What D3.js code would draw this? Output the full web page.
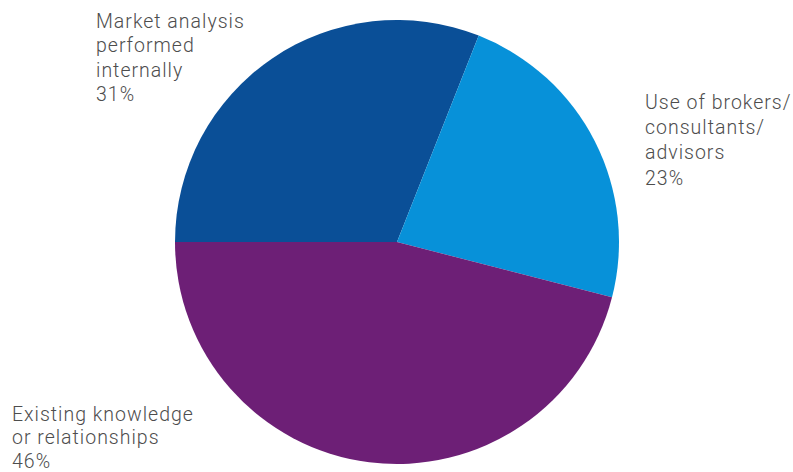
<!DOCTYPE html>
<html>
<head>
<meta charset="utf-8">
<script src="https://cdn.jsdelivr.net/npm/d3@7"></script>
<style>
  html, body { margin: 0; padding: 0; background: #ffffff; }
  svg { display: block; }
  text { font-family: Roboto, "Liberation Sans", sans-serif; font-weight: 300; fill: #4d4d4d; letter-spacing: 1px; }
</style>
</head>
<body>
<svg id="chart" width="793" height="472"></svg>
<script>
// Share of respondents by source of market information
const categories = [
  "Market analysis performed internally",
  "Use of brokers/ consultants/ advisors",
  "Existing knowledge or relationships"
];
const shares = [31, 23, 46];
const colors = ["#0a4f97", "#0791d9", "#6d1f76"];
// Label lines as set on the page
const labelLines = [
  ["Market analysis", "performed", "internally", "31%"],
  ["Use of brokers/", "consultants/", "advisors", "23%"],
  ["Existing knowledge", "or relationships", "46%"]
];

const svg = d3.select("#chart");
const cx = 397, cy = 242, radius = 222;

const data = categories.map((c, i) => ({ name: c, value: shares[i], color: colors[i], lines: labelLines[i] }));

const pie = d3.pie()
  .value(d => d.value)
  .sort(null)
  .startAngle(-Math.PI / 2)
  .endAngle(3 * Math.PI / 2);

const arc = d3.arc().innerRadius(0).outerRadius(radius);

const g = svg.append("g").attr("transform", `translate(${cx},${cy})`);
g.selectAll("path")
  .data(pie(data))
  .join("path")
  .attr("d", arc)
  .attr("fill", d => d.data.color);

// Label blocks: left edge, first baseline, line step
const labelPos = [
  { x: 96, y: 28, step: 24.3 },
  { x: 645, y: 108.7, step: 25.3 },
  { x: 12, y: 420.5, step: 23.8 }
];

data.forEach((d, i) => {
  const p = labelPos[i];
  const t = svg.append("text")
    .attr("x", p.x)
    .attr("y", p.y)
    .attr("font-size", 19.5);
  d.lines.forEach((ln, j) => {
    t.append("tspan")
      .attr("x", p.x)
      .attr("y", p.y + j * p.step)
      .text(ln);
  });
});
</script>
</body>
</html>
